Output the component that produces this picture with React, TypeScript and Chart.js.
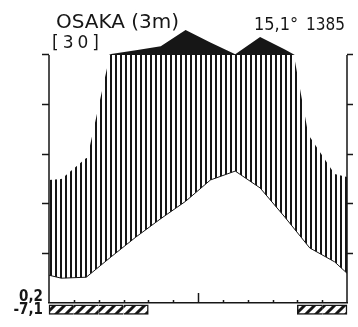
import React, { useEffect, useRef } from 'react';
import { Chart, registerables } from 'chart.js';

Chart.register(...registerables);

// ---- data ----
const months = ['Jan', 'Feb', 'Mar', 'Apr', 'May', 'Jun', 'Jul', 'Aug', 'Sep', 'Oct', 'Nov', 'Dec'];
// mean monthly temperature (°C)
const temperature = [5.0, 5.2, 9.3, 13.3, 17.0, 20.5, 24.8, 26.6, 23.2, 17.3, 11.1, 8.3];
// curve values at the diagram's left (1 Jan) and right (31 Dec) edges
const temperatureEdges = [5.6, 6.0];
// mean monthly precipitation (mm)
const precipitation = [50, 58.5, 104, 119, 135, 201, 150, 103, 173, 122, 67, 52];
const precipitationEdges = [49.6, 50.8];
// months with absolute minimum below 0 °C
const frostMonths = [1, 1, 1, 1, 0, 0, 0, 0, 0, 0, 1, 1];
// temperature axis ticks (°C); 10 °C = 20 mm
const tempTicks = [0, 10, 20, 30, 40, 50];

const station = 'OSAKA (3m)';
const years = '[30]';
const meanTemp = '15,1°';
const annualPrecip = '1385';
const meanMinColdest = '0,2';
const absoluteMin = '-7,1';

// ---- scale conversions of the Walter–Lieth diagram ----
const mmToLow = (mm: number) => mm / 2; // up to 100 mm: 20 mm = 10 °C
const mmToHigh = (mm: number) => 50 + (mm - 100) / 20; // above 100 mm: 200 mm = 10 °C

function series(vals: number[], edges: number[], f: (v: number) => number) {
  return [
    { x: 0, y: f(edges[0]) },
    ...vals.map((v, i) => ({ x: i + 0.5, y: f(v) })),
    { x: months.length, y: f(edges[1]) },
  ];
}

const INK = '#161616';
const CLEAR = 'rgba(0,0,0,0)';
const TEMP_MAX = tempTicks[tempTicks.length - 1];
// layout: 0 °C at y=303, 50 °C at y=55, plot area extended up to y=5 for the >100 mm part
const AREA_TOP = 5;
const AREA_BOTTOM = 303;
const Y50_PX = 55;
const Y_TOP = (TEMP_MAX * (AREA_BOTTOM - AREA_TOP)) / (AREA_BOTTOM - Y50_PX);

function stripePattern(): CanvasPattern | string {
  const c = document.createElement('canvas');
  c.width = 5;
  c.height = 5;
  const g = c.getContext('2d');
  if (!g) return INK;
  g.fillStyle = INK;
  g.fillRect(0, 0, 2, 5);
  return g.createPattern(c, 'repeat') || INK;
}

function diagPattern(): CanvasPattern | string {
  const c = document.createElement('canvas');
  c.width = 10;
  c.height = 10;
  const g = c.getContext('2d');
  if (!g) return INK;
  g.fillStyle = '#ffffff';
  g.fillRect(0, 0, 10, 10);
  g.strokeStyle = INK;
  g.lineWidth = 3;
  g.beginPath();
  g.moveTo(-5, 5); g.lineTo(5, -5);
  g.moveTo(0, 10); g.lineTo(10, 0);
  g.moveTo(5, 15); g.lineTo(15, 5);
  g.stroke();
  return g.createPattern(c, 'repeat') || INK;
}

// axis lines (temperature range only) and the small month ticks on the time axis
const axisDecor = {
  id: 'axisDecor',
  afterDatasetsDraw(chart: any) {
    const xs = chart.scales.x;
    const ys = chart.scales.y;
    const { left, right } = chart.chartArea;
    const y0 = ys.getPixelForValue(0);
    const y1 = ys.getPixelForValue(TEMP_MAX);
    const ctx = chart.ctx;
    ctx.save();
    ctx.strokeStyle = INK;
    ctx.lineWidth = 1.5;
    ctx.beginPath();
    ctx.moveTo(left, y1);
    ctx.lineTo(left, y0);
    ctx.moveTo(right, y1);
    ctx.lineTo(right, y0);
    ctx.stroke();
    for (let i = 1; i < months.length; i++) {
      const px = Math.round(xs.getPixelForValue(i)) + 0.5;
      const len = i === months.length / 2 ? 10 : 3;
      ctx.beginPath();
      ctx.moveTo(px, y0);
      ctx.lineTo(px, y0 - len);
      ctx.stroke();
    }
    ctx.restore();
  },
};

function ClimateChart() {
  const ref = useRef<HTMLCanvasElement | null>(null);
  useEffect(() => {
    if (!ref.current) return;
    const stripes = stripePattern();
    const diag = diagPattern();
    const tickColor = (ctx: any) => (ctx.tick && ctx.tick.value === 0 ? CLEAR : INK);
    const FROST_BAR: [number, number] = [-2.3, -0.35];
    const yAxis = (position: string, tickLength: number) => ({
      type: 'linear',
      position,
      min: tempTicks[0],
      max: Y_TOP,
      afterBuildTicks: (s: any) => { s.ticks = tempTicks.map((v) => ({ value: v })); },
      ticks: { display: false },
      grid: { drawOnChartArea: false, drawTicks: true, tickLength, tickWidth: 1.5, tickColor },
      border: { display: false },
    });
    const chart = new Chart(ref.current, {
      type: 'line',
      data: {
        datasets: [
          {
            type: 'line',
            label: 'Temperature',
            order: 1,
            data: series(temperature, temperatureEdges, (v) => v),
            borderColor: INK,
            borderWidth: 1,
            pointRadius: 0,
            fill: false,
            tension: 0,
            xAxisID: 'x',
            yAxisID: 'y',
          },
          {
            type: 'line',
            label: 'Precipitation (humid period)',
            order: 4,
            data: series(precipitation, precipitationEdges, mmToLow),
            borderColor: CLEAR,
            borderWidth: 0,
            pointRadius: 0,
            backgroundColor: stripes as any,
            fill: 0,
            tension: 0,
            xAxisID: 'x',
            yAxisID: 'y',
          },
          {
            // the 1:2 precipitation curve stops at 100 mm: blank out what lies above
            type: 'line',
            label: 'cut at 100 mm',
            order: 3,
            data: series(precipitation, precipitationEdges, mmToLow),
            borderColor: CLEAR,
            borderWidth: 2,
            segment: {
              borderColor: (ctx: any) =>
                ctx.p0.parsed.y > TEMP_MAX || ctx.p1.parsed.y > TEMP_MAX ? '#ffffff' : CLEAR,
            },
            pointRadius: 0,
            fill: { target: { value: TEMP_MAX }, above: '#ffffff', below: CLEAR } as any,
            tension: 0,
            xAxisID: 'x',
            yAxisID: 'y',
          } as any,
          {
            type: 'line',
            label: 'Precipitation > 100 mm',
            order: 2,
            data: series(precipitation, precipitationEdges, mmToHigh),
            borderColor: CLEAR,
            borderWidth: 0,
            pointRadius: 0,
            fill: { target: { value: TEMP_MAX }, above: INK, below: CLEAR } as any,
            tension: 0,
            xAxisID: 'x',
            yAxisID: 'y',
          },
          {
            type: 'bar',
            label: 'Frost months',
            order: 0,
            data: frostMonths.map((f) => (f ? FROST_BAR : null)) as any,
            backgroundColor: diag as any,
            borderColor: INK,
            borderWidth: ((ctx: any) => {
              const i = ctx.dataIndex;
              return {
                top: 1.5,
                bottom: 1.5,
                left: frostMonths[i - 1] ? 0 : 1.5,
                right: frostMonths[i + 1] ? 0 : 1.5,
              };
            }) as any,
            borderSkipped: false,
            grouped: false,
            barPercentage: 1,
            categoryPercentage: 1,
            clip: false as any,
            xAxisID: 'xm',
            yAxisID: 'y',
          } as any,
        ],
      },
      options: {
        responsive: false,
        animation: false,
        events: [],
        layout: { padding: { left: 42, right: 5, top: AREA_TOP, bottom: 327 - AREA_BOTTOM } },
        plugins: { legend: { display: false }, tooltip: { enabled: false } },
        scales: {
          x: {
            type: 'linear',
            min: 0,
            max: months.length,
            position: 'bottom',
            ticks: { display: false },
            grid: { drawOnChartArea: false, drawTicks: false },
            border: { color: INK, width: 1.5 },
          },
          xm: {
            type: 'category',
            labels: months,
            display: false,
            offset: true,
          },
          y: yAxis('left', 7),
          yR: yAxis('right', 6),
        },
      } as any,
      plugins: [axisDecor],
    });
    return () => chart.destroy();
  }, []);
  return <canvas ref={ref} width={358} height={327} style={{ display: 'block', width: 358, height: 327 }} />;
}

const narrow = "'Liberation Sans Narrow', 'DejaVu Sans Condensed', 'Liberation Sans', sans-serif";
const wide = "'DejaVu Sans', 'Liberation Sans', sans-serif";

function Label(props: { text: string; left?: number; right?: number; baseline: number; size: number; family: string; weight?: number; spacing?: number }) {
  const { text, left, right, baseline, size, family, weight, spacing } = props;
  const style: React.CSSProperties = {
    position: 'absolute',
    top: baseline - 0.846 * size,
    fontSize: size,
    lineHeight: `${size}px`,
    fontFamily: family,
    fontWeight: weight || 400,
    letterSpacing: spacing || 0,
    whiteSpace: 'nowrap',
    color: INK,
  };
  if (left !== undefined) style.left = left;
  if (right !== undefined) { style.right = right; style.textAlign = 'right'; }
  return <div style={style}>{text}</div>;
}

export default function App() {
  return (
    <div style={{ position: 'absolute', left: 0, top: 0, width: 358, height: 327, background: '#fff', overflow: 'hidden' }}>
      <ClimateChart />
      <Label text={station} left={56} baseline={28} size={20} family={wide} />
      <Label text={years} left={52} baseline={48} size={17} family={wide} spacing={4} />
      <Label text={meanTemp} left={254} baseline={30} size={18} family={narrow} />
      <Label text={annualPrecip} left={306} baseline={30} size={17} family={narrow} />
      <Label text={meanMinColdest} right={358 - 43} baseline={302} size={15} family={narrow} weight={700} />
      <Label text={absoluteMin} right={358 - 43} baseline={315} size={15} family={narrow} weight={700} />
    </div>
  );
}
